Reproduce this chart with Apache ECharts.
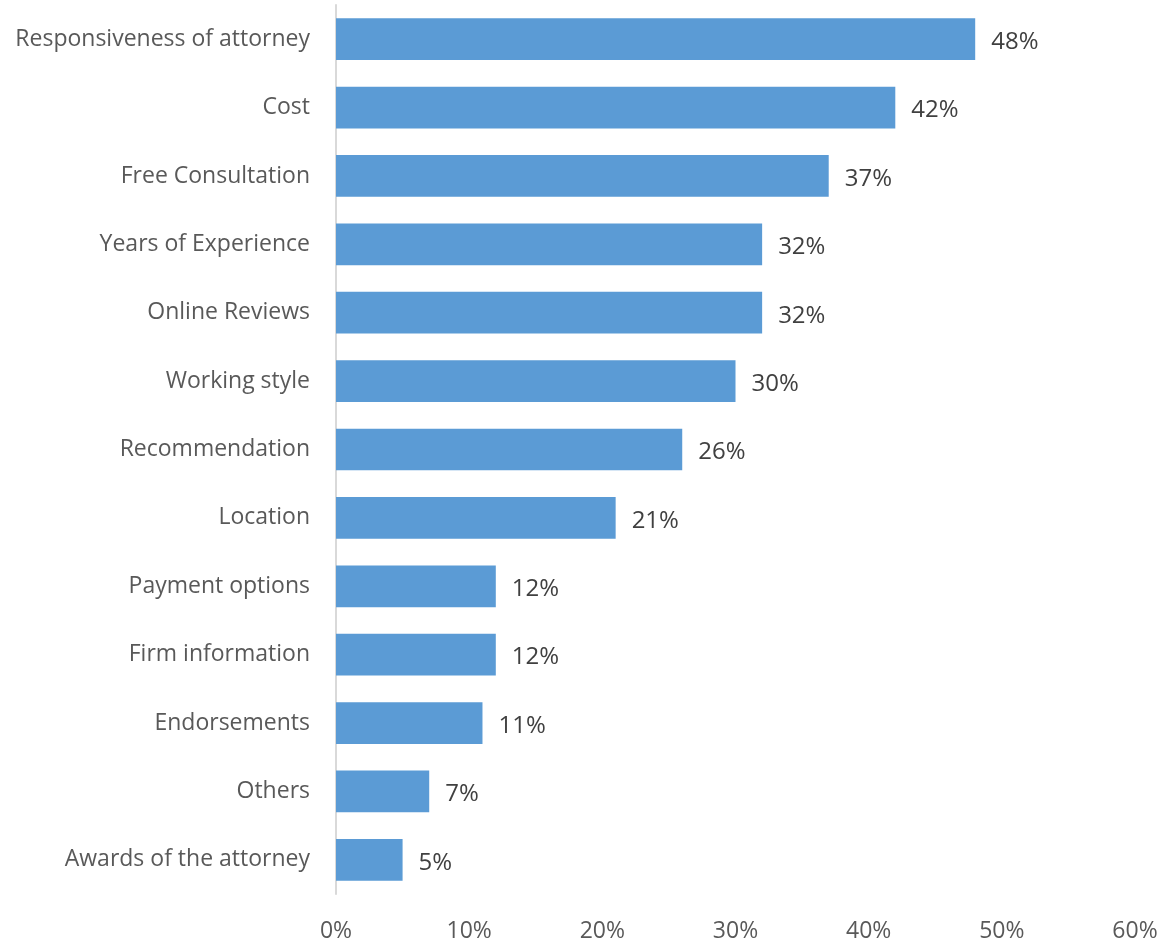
<!DOCTYPE html>
<html>
<head>
<meta charset="utf-8">
<script src="https://cdn.jsdelivr.net/npm/echarts@6/dist/echarts.min.js"></script>
<style>
  html, body { margin: 0; padding: 0; background: #fff; }
  #chart { width: 1163px; height: 941px; }
</style>
</head>
<body>
<div id="chart"></div>
<script>
// Factors considered when choosing an attorney (share of respondents, %)
const categories = [
  'Responsiveness of attorney', 'Cost', 'Free Consultation', 'Years of Experience',
  'Online Reviews', 'Working style', 'Recommendation', 'Location',
  'Payment options', 'Firm information', 'Endorsements', 'Others', 'Awards of the attorney'
];
const values = [48, 42, 37, 32, 32, 30, 26, 21, 12, 12, 11, 7, 5];
const axisTicks = [0, 10, 20, 30, 40, 50, 60];

const FONT = '"Open Sans", sans-serif';

const chart = echarts.init(document.getElementById('chart'), null, { renderer: 'canvas' });
chart.setOption({
  animation: false,
  grid: { left: 336, right: 28, top: 5, bottom: 47, containLabel: false, outerBoundsMode: 'none' },
  xAxis: {
    type: 'value',
    min: axisTicks[0],
    max: axisTicks[axisTicks.length - 1],
    interval: 10,
    axisLine: { show: false },
    axisTick: { show: false },
    splitLine: { show: false },
    axisLabel: {
      formatter: v => v + '%',
      color: '#595959',
      fontFamily: FONT,
      fontSize: 23,
      margin: 26
    }
  },
  yAxis: {
    type: 'category',
    inverse: true,
    data: categories,
    axisLine: { show: true, lineStyle: { color: '#d9d9d9', width: 2 } },
    axisTick: { show: false },
    axisLabel: {
      color: '#595959',
      fontFamily: FONT,
      fontSize: 23,
      margin: 26,
      padding: [5, 0, 0, 0]
    }
  },
  series: [{
    type: 'bar',
    data: values,
    barCategoryGap: '39%',
    itemStyle: { color: '#5b9bd5' },
    label: {
      show: true,
      position: 'right',
      distance: 16,
      formatter: p => p.value + '%',
      color: '#404040',
      fontFamily: FONT,
      fontSize: 24,
      offset: [0, 3]
    }
  }]
});
</script>
</body>
</html>
